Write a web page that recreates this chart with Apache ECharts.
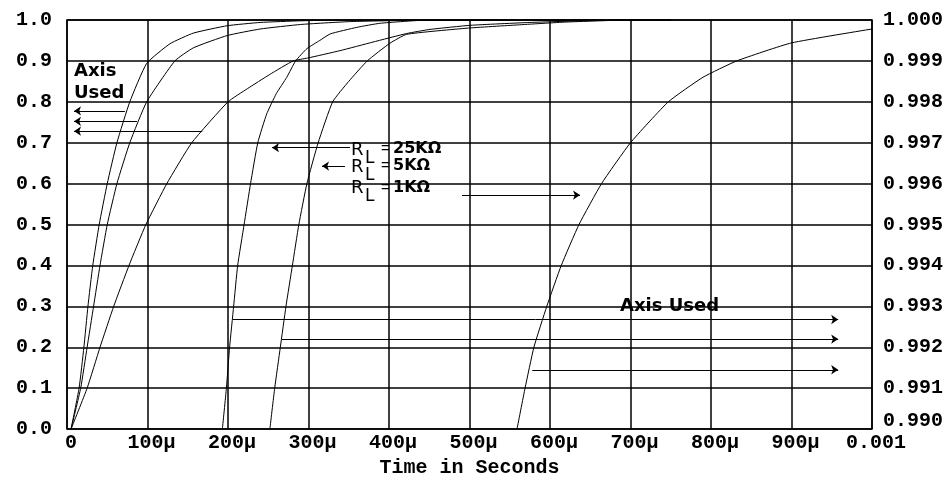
<!DOCTYPE html>
<html><head><meta charset="utf-8">
<script src="https://cdn.jsdelivr.net/npm/echarts@6/dist/echarts.min.js"></script>
<style>html,body{margin:0;padding:0;background:#fff}#c{width:952px;height:483px}</style>
</head><body><div id="c"></div>
<script>
// ---- tick labels ----
const xTickLabels = ['0','100µ','200µ','300µ','400µ','500µ','600µ','700µ','800µ','900µ','0.001'];
const leftTickLabels = ['0.0','0.1','0.2','0.3','0.4','0.5','0.6','0.7','0.8','0.9','1.0'];
const rightTickLabels = ['0.990','0.991','0.992','0.993','0.994','0.995','0.996','0.997','0.998','0.999','1.000'];

// ---- series (time in µs, value) ----
// left axis curves
const curveA = [[5,0],[15,0.1],[21,0.2],[26,0.3],[32,0.4],[40,0.5],[50,0.6],[62,0.7],[78,0.8],[99,0.894],[128,0.942],[157,0.968],[199,0.986],[240,0.994],[290,0.998],[350,1.0],[750,1.0]];
const curveB = [[5,0],[17,0.1],[25,0.2],[33,0.3],[41,0.4],[50,0.5],[62,0.6],[78,0.7],[99,0.8],[134,0.9],[157,0.932],[199,0.962],[240,0.978],[290,0.989],[350,0.996],[420,0.999],[500,1.0],[750,1.0]];
const curveC = [[5,0],[25,0.1],[41,0.2],[58,0.3],[77,0.4],[98,0.5],[124,0.6],[155,0.7],[200,0.8],[224,0.832],[252,0.867],[281,0.9],[299,0.907],[339,0.925],[380,0.946],[422,0.967],[451,0.977],[501,0.987],[575,0.994],[640,0.998],[700,1.0],[750,1.0]];
// right axis curves
const curveD = [[193,0.990],[198,0.991],[202,0.992],[207,0.993],[212,0.994],[220,0.995],[228,0.996],[237,0.997],[248,0.9977],[260,0.9982],[273,0.9986],[284,0.9990],[298,0.9993],[314,0.9995],[327,0.99966],[360,0.99982],[389,0.99992],[450,1.0],[750,1.0]];
const curveE = [[252,0.990],[258,0.991],[265,0.992],[272,0.993],[280,0.994],[288,0.995],[298,0.996],[312,0.997],[330,0.998],[350,0.9985],[373,0.999],[401,0.99943],[422,0.99965],[497,0.9998],[560,0.99988],[620,0.99995],[700,1.0],[750,1.0]];
const curveF = [[559,0.990],[569,0.991],[580,0.992],[596,0.993],[614,0.994],[636,0.995],[664,0.996],[700,0.997],[747,0.998],[790,0.9986],[832,0.999],[900,0.99944],[1000,0.99978]];

// ---- annotation arrows (data coords: [tail, tip]) ----
const leftArrows = [[[72,0.7778],[8.7,0.7778]],[[87,0.7524],[8.7,0.7524]],[[168,0.7283],[8.7,0.7283]]];
const rightArrows = [[[206,0.99268],[958,0.99268]],[[267,0.99220],[958,0.99220]],[[578,0.99145],[958,0.99145]]];
const rlArrows = [[[351.6,0.99688],[254.7,0.99688]],[[345.3,0.99643],[316.8,0.99643]],[[490.7,0.99572],[637.3,0.99572]]];

// ---- annotation texts (data-space anchors) ----
const leftAxisUsedText = [['Axis',8.7,0.8756],['Used',8.7,0.8200]];
const rightAxisUsedText = [['Axis Used',687,0.99301]];
const rlLabels = [['25KΩ',352.8,0.99682],['5KΩ',352.8,0.99641],['1KΩ',352.8,0.99588]];

const monoFont = {fontFamily:'Liberation Mono', fontWeight:'bold', fontSize:20, color:'#000'};

function arrowLines(list){
  return {
    silent:true, animation:false,
    symbol:['none','arrow'], symbolSize:7,
    lineStyle:{color:'#000', width:1, type:'solid'},
    itemStyle:{color:'#000'},
    label:{show:false}, emphasis:{disabled:true},
    data:list.map(p=>[{coord:p[0]},{coord:p[1]}])
  };
}
function line(data, yi, extra){
  return Object.assign({
    type:'line', data, yAxisIndex:yi, symbol:'none', showSymbol:false,
    smooth:0.15, silent:true, animation:false,
    lineStyle:{color:'#000', width:1}
  }, extra||{});
}

const chart = echarts.init(document.getElementById('c'), null, {renderer:'canvas'});
chart.setOption({
  animation:false,
  backgroundColor:'#fff',
  grid:{left:67, right:80, top:20, bottom:49, show:true, borderColor:'#000', borderWidth:1.5},
  xAxis:{
    type:'value', min:0, max:1000, interval:100,
    axisLine:{show:false}, axisTick:{show:false},
    splitLine:{show:true, lineStyle:{color:'#000', width:1.5}},
    axisLabel:Object.assign({margin:4, padding:[0,0,0,8], formatter:v=>xTickLabels[Math.round(v/100)]}, monoFont),
    name:'Time in Seconds', nameLocation:'middle', nameGap:26,
    nameTextStyle:Object.assign({}, monoFont)
  },
  yAxis:[
    {type:'value', position:'left', min:0, max:1, interval:0.1,
     axisLine:{show:false}, axisTick:{show:false},
     splitLine:{show:true, lineStyle:{color:'#000', width:1.5}},
     axisLabel:Object.assign({margin:15, formatter:v=>leftTickLabels[Math.round(v*10)]}, monoFont)},
    {type:'value', position:'right', min:0.990, max:1.000, interval:0.001,
     axisLine:{show:false}, axisTick:{show:false}, splitLine:{show:false},
     axisLabel:Object.assign({margin:11,
       formatter:v=>{const i=Math.round((v-0.99)*1000); return i===0?'{lo|'+rightTickLabels[i]+'}':rightTickLabels[i];},
       rich:{lo:Object.assign({padding:[0,0,16,0]}, monoFont)}}, monoFont)}
  ],
  series:[
    line(curveA,0,{markLine:arrowLines(leftArrows)}),
    line(curveB,0),
    line(curveC,0),
    line(curveD,1,{markLine:arrowLines(rightArrows.concat(rlArrows))}),
    line(curveE,1),
    line(curveF,1)
  ]
});

const P = (x,y,yi)=>chart.convertToPixel({xAxisIndex:0, yAxisIndex:yi},[x,y]);
const g = [];
function txt(s,x,y,font){
  g.push({type:'text', silent:true, style:{text:s, x, y, font, fill:'#000', textAlign:'left', textVerticalAlign:'middle'}});
}
const annFont = '600 18px "DejaVu Sans"';
leftAxisUsedText.forEach(t=>{const p=P(t[1],t[2],0); txt(t[0],p[0],p[1],annFont);});
rightAxisUsedText.forEach(t=>{const p=P(t[1],t[2],1); txt(t[0],p[0],p[1],annFont);});
rlLabels.forEach(t=>{
  const p=P(t[1],t[2],1);
  txt('R',p[0],p[1],'18px "DejaVu Sans"');
  txt('L',p[0]+14,p[1]+8.5,'17px "DejaVu Sans"');
  txt('=',p[0]+30,p[1]-1,'15px "Liberation Sans"');
  txt(t[0],p[0]+42,p[1]-1,'bold 16px "DejaVu Sans"');
});
chart.setOption({graphic:g});
</script></body></html>
